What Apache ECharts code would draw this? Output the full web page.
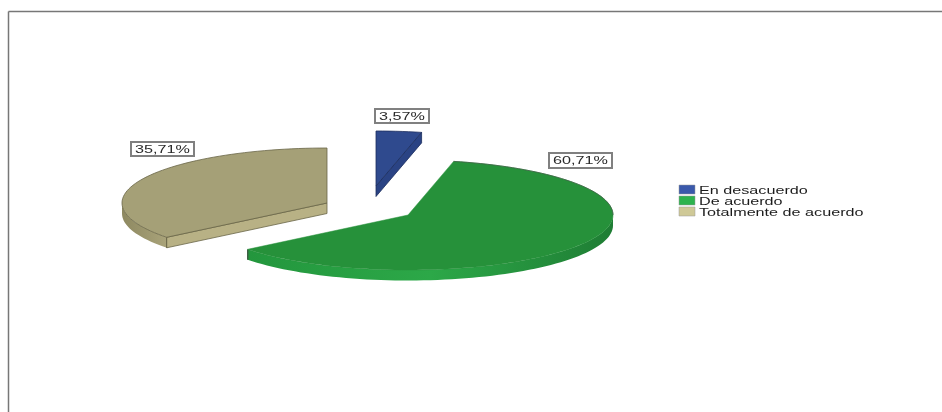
<!DOCTYPE html>
<html>
<head>
<meta charset="utf-8">
<style>html,body{margin:0;padding:0;background:#fff}#chart{width:942px;height:412px}</style>
<script src="https://cdn.jsdelivr.net/npm/echarts@6/dist/echarts.min.js"></script>
</head>
<body>
<div id="chart"></div>
<script>
// Response categories and their percentages
const categories = ['En desacuerdo', 'De acuerdo', 'Totalmente de acuerdo'];
const shares = [3.57, 60.71, 35.71];

// Tilted-disc geometry
const RX = 205, RY = 55, DEPTH = 10.5;
const apexes = [[376, 186], [408, 215], [327, 203]];
const labelBoxes = [[375, 109, 54, 14], [549, 153, 63, 15], [131, 142, 63, 14]];

const palette = [
  { top: '#2f4a8e', edge: '#1d2f5e', cut: '#2a4384', rim: ['#2a4384', '#2a4384'], key: '#3a59ab' },
  { top: '#26913a', edge: '#3f5f45', cut: '#1f7e35', rim: ['#23963d', '#2ca848', '#1f7d34'], key: '#2db34e' },
  { top: '#a5a077', edge: '#6a6648', cut: '#b8b185', rim: ['#8e8961', '#a9a37a'], key: '#cfc997' }
];

const total = shares.reduce((a, b) => a + b, 0);
const TEXT_STRETCH = 1.47;

function point(c, deg, dz) {
  const t = deg * Math.PI / 180;
  return [c[0] + RX * Math.sin(t), c[1] - RY * Math.cos(t) + (dz || 0)];
}
function arc(c, from, to, dz) {
  const pts = [];
  const n = Math.max(2, Math.ceil(Math.abs(to - from) / 2));
  for (let i = 0; i <= n; i++) pts.push(point(c, from + (to - from) * i / n, dz));
  return pts;
}
function gradient(colors) {
  return new echarts.graphic.LinearGradient(0, 0, 1, 0,
    colors.map((color, i) => ({ offset: i / (colors.length - 1), color })));
}

// One elliptical slice: rim, visible cut face, then the top surface
function renderSlice(params, api) {
  const i = params.seriesIndex;
  const before = shares.slice(0, i).reduce((a, b) => a + b, 0);
  const a0 = before / total * 360;
  const a1 = a0 + api.value(0) / total * 360;
  const c = apexes[i], pal = palette[i];
  const children = [];

  const f0 = Math.max(a0, 90), f1 = Math.min(a1, 270);
  if (f1 > f0) {
    children.push({
      type: 'polygon',
      shape: { points: arc(c, f0, f1, 0).concat(arc(c, f1, f0, DEPTH)) },
      style: { fill: gradient(pal.rim) }
    });
    [f0, f1].forEach(a => {
      if (a === a0 || a === a1) {
        const p = point(c, a);
        children.push({
          type: 'line',
          shape: { x1: p[0], y1: p[1], x2: p[0], y2: p[1] + DEPTH },
          style: { stroke: pal.edge, lineWidth: 1.5 }
        });
      }
    });
  }

  const sinA0 = Math.sin(a0 * Math.PI / 180), sinA1 = Math.sin(a1 * Math.PI / 180);
  const cutAngle = sinA0 < -1e-6 ? a0 : (sinA1 > 1e-6 ? a1 : null);
  if (cutAngle !== null) {
    const p = point(c, cutAngle);
    children.push({
      type: 'polygon',
      shape: { points: [c, p, [p[0], p[1] + DEPTH], [c[0], c[1] + DEPTH]] },
      style: { fill: pal.cut, stroke: pal.edge, lineWidth: 0.8 }
    });
  }

  const flatFront = a1 - a0 > 180;
  children.push({
    type: 'polygon',
    shape: { points: [c].concat(arc(c, a0, a1, 0)) },
    style: flatFront
      ? { fill: pal.top, stroke: pal.top, lineWidth: 0.5 }
      : { fill: pal.top, stroke: pal.edge, lineWidth: 0.8 }
  });
  if (flatFront) {
    // The large slice only carries an outline along its far edge
    children.push({
      type: 'polyline',
      shape: { points: arc(c, a0, 90, 0) },
      style: { fill: 'none', stroke: pal.edge, lineWidth: 0.8 }
    });
  }

  // Value label in a grey box
  const b = labelBoxes[i];
  children.push({
    type: 'rect',
    shape: { x: b[0], y: b[1], width: b[2], height: b[3] },
    style: { fill: '#fff', stroke: '#808080', lineWidth: 2 }
  });
  children.push({
    type: 'text',
    x: b[0] + b[2] / 2,
    y: b[1] + b[3] / 2 + 0.5,
    scaleX: TEXT_STRETCH,
    style: {
      text: api.value(0).toFixed(2).replace('.', ',') + '%',
      font: '11px "Liberation Sans", Arial, sans-serif',
      fill: '#2a2a2a',
      align: 'center',
      verticalAlign: 'middle'
    }
  });

  // Legend row for this category
  const ky = 185 + i * 11;
  children.push({
    type: 'rect',
    shape: { x: 679, y: ky, width: 16, height: 9 },
    style: { fill: pal.key, stroke: '#999', lineWidth: 0.5 }
  });
  children.push({
    type: 'text',
    x: 699,
    y: ky + 6,
    scaleX: TEXT_STRETCH,
    style: {
      text: categories[i],
      font: '11px "Liberation Sans", Arial, sans-serif',
      fill: '#1c1c1c',
      align: 'left',
      verticalAlign: 'middle'
    }
  });

  return { type: 'group', children };
}

const chart = echarts.init(document.getElementById('chart'), null, { renderer: 'canvas' });
chart.setOption({
  animation: false,
  backgroundColor: '#fff',
  graphic: [
    { type: 'line', shape: { x1: 8.5, y1: 11.5, x2: 942, y2: 11.5 }, style: { stroke: '#777', lineWidth: 1.5 } },
    { type: 'line', shape: { x1: 8.5, y1: 11.5, x2: 8.5, y2: 412 }, style: { stroke: '#777', lineWidth: 1.5 } }
  ],
  series: categories.map((name, i) => ({
    type: 'custom',
    name,
    coordinateSystem: 'none',
    renderItem: renderSlice,
    silent: true,
    data: [[shares[i]]]
  }))
});
</script>
</body>
</html>
